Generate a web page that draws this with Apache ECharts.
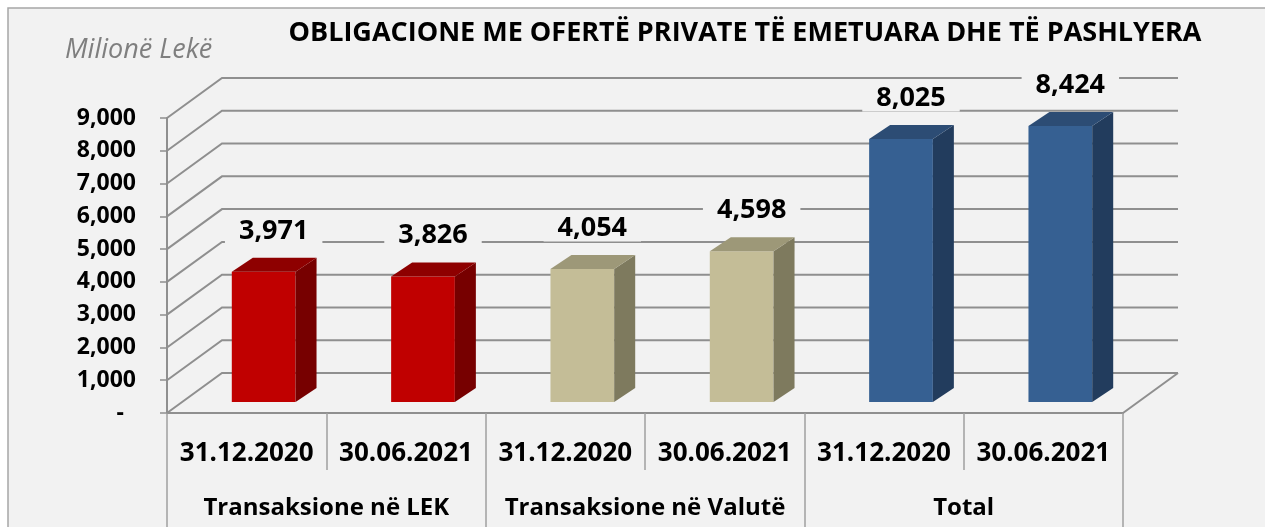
<!DOCTYPE html>
<html>
<head>
<meta charset="utf-8">
<script src="https://cdn.jsdelivr.net/npm/echarts@6/dist/echarts.min.js"></script>
<style>
  html, body { margin: 0; padding: 0; background: #fff; }
  #chart { width: 1265px; height: 527px; }
</style>
</head>
<body>
<div id="chart"></div>
<script>
// të dhënat
const categories = ['31.12.2020', '30.06.2021', '31.12.2020', '30.06.2021', '31.12.2020', '30.06.2021'];
const groups = ['Transaksione në LEK', 'Transaksione në Valutë', 'Total'];
const values = [3971, 3826, 4054, 4598, 8025, 8424];
const yTicks = [0, 1000, 2000, 3000, 4000, 5000, 6000, 7000, 8000, 9000];

// ngjyrat per grup: [para, anesh, siper]
const palette = [
  ['#c00000', '#770000', '#8e0000'],
  ['#c4bd97', '#7e7a5e', '#9d9878'],
  ['#366092', '#223c5d', '#2c4c74']
];
const FONT = '"Open Sans", sans-serif';
const WALL = [55, -40];      // thellesia e murit te pasem
const BAR_OFF = [17, -11];   // zhvendosja e fytyres se shtyllave
const BAR_DEPTH = [21, -14]; // thellesia e shtylles

const myChart = echarts.init(document.getElementById('chart'));

myChart.setOption({
  animation: false,
  backgroundColor: '#ffffff',
  graphic: [
    {
      type: 'rect', z: -10, silent: true,
      shape: { x: 8, y: 8, width: 1300, height: 600 },
      style: { fill: '#f2f2f2', stroke: '#a6a6a6', lineWidth: 1.5 }
    },
    {
      type: 'text', x: 745, y: 33,
      style: { text: 'OBLIGACIONE ME OFERTË PRIVATE TË EMETUARA DHE TË PASHLYERA',
        font: 'bold 27px ' + FONT, fill: '#000', align: 'center', verticalAlign: 'middle' }
    },
    {
      type: 'text', x: 65, y: 50,
      style: { text: 'Milionë Lekë', font: 'italic 27px ' + FONT, fill: '#7f7f7f',
        align: 'left', verticalAlign: 'middle' }
    }
  ],
  grid: { left: 167, right: 142, top: 118, bottom: 114 },
  xAxis: [
    {
      type: 'category',
      data: categories,
      position: 'bottom',
      axisLine: { lineStyle: { color: '#8f8f8f', width: 2 } },
      axisTick: { show: true, interval: 0, length: 57, lineStyle: { color: '#a0a0a0', width: 1.5 } },
      axisLabel: { interval: 0, margin: 28, color: '#000', fontFamily: FONT, fontWeight: 'bold', fontSize: 26 }
    },
    {
      type: 'category',
      data: groups,
      position: 'bottom',
      axisLine: { show: false },
      axisTick: { show: true, interval: 0, length: 130, lineStyle: { color: '#a0a0a0', width: 1.5 } },
      axisLabel: { interval: 0, margin: 83, color: '#000', fontFamily: FONT, fontWeight: 'bold', fontSize: 24 }
    }
  ],
  yAxis: {
    type: 'value',
    min: 0,
    max: 9000,
    interval: 1000,
    splitLine: { show: false },
    axisLine: { show: true, lineStyle: { color: '#8f8f8f', width: 2 } },
    axisTick: { show: true, length: 7, lineStyle: { color: '#8f8f8f', width: 1.5 } },
    axisLabel: {
      margin: 31,
      color: '#000', fontFamily: FONT, fontWeight: 'bold', fontSize: 23,
      formatter: function (v) {
        return v === 0 ? '{d|-}' : echarts.format.addCommas(v);
      },
      rich: { d: { fontFamily: FONT, fontWeight: 'bold', fontSize: 23, padding: [0, 12, 0, 0] } }
    }
  },
  series: [
    {
      // muri i pasem me vijat e rrjetit
      type: 'custom',
      z: 1,
      clip: false,
      silent: true,
      data: yTicks.map(v => [0, v]),
      renderItem: function (params, api) {
        const cs = params.coordSys;
        const y = api.coord([0, api.value(1)])[1];
        const x0 = cs.x, x1 = cs.x + cs.width;
        const children = [{
          type: 'polyline',
          shape: { points: [[x0, y], [x0 + WALL[0], y + WALL[1]], [x1 + WALL[0], y + WALL[1]]] },
          style: { stroke: '#8f8f8f', lineWidth: 2, fill: null }
        }];
        if (api.value(1) === 0) {
          children.push({
            type: 'line',
            shape: { x1: x1, y1: y, x2: x1 + WALL[0], y2: y + WALL[1] },
            style: { stroke: '#8f8f8f', lineWidth: 2 }
          });
        }
        return { type: 'group', children: children };
      }
    },
    {
      // shtyllat 3D
      type: 'custom',
      z: 3,
      clip: false,
      data: values.map((v, i) => [i, v]),
      renderItem: function (params, api) {
        const i = api.value(0);
        const top = api.coord([i, api.value(1)]);
        const base = api.coord([i, 0]);
        const hw = api.size([1, 0])[0] * 0.2;
        const col = palette[Math.floor(i / 2)];
        const L = top[0] + BAR_OFF[0] - hw, R = top[0] + BAR_OFF[0] + hw;
        const T = top[1] + BAR_OFF[1], B = base[1] + BAR_OFF[1];
        const dx = BAR_DEPTH[0], dy = BAR_DEPTH[1];
        return {
          type: 'group',
          children: [
            { type: 'rect', shape: { x: L, y: T, width: R - L, height: B - T }, style: { fill: col[0] } },
            { type: 'polygon', shape: { points: [[R, T], [R + dx, T + dy], [R + dx, B + dy], [R, B]] }, style: { fill: col[1] } },
            { type: 'polygon', shape: { points: [[L, T], [L + dx, T + dy], [R + dx, T + dy], [R, T]] }, style: { fill: col[2] } },
            {
              type: 'text', z2: 10,
              style: {
                x: (L + R) / 2 + 10, y: T + dy - 27,
                text: echarts.format.addCommas(api.value(1)),
                align: 'center', verticalAlign: 'middle',
                font: 'bold 27px ' + FONT, fill: '#000',
                backgroundColor: '#f2f2f2', padding: [0, 14]
              }
            }
          ]
        };
      }
    }
  ]
});
window.onresize = function () {
  myChart.resize();
};
</script>
</body>
</html>
